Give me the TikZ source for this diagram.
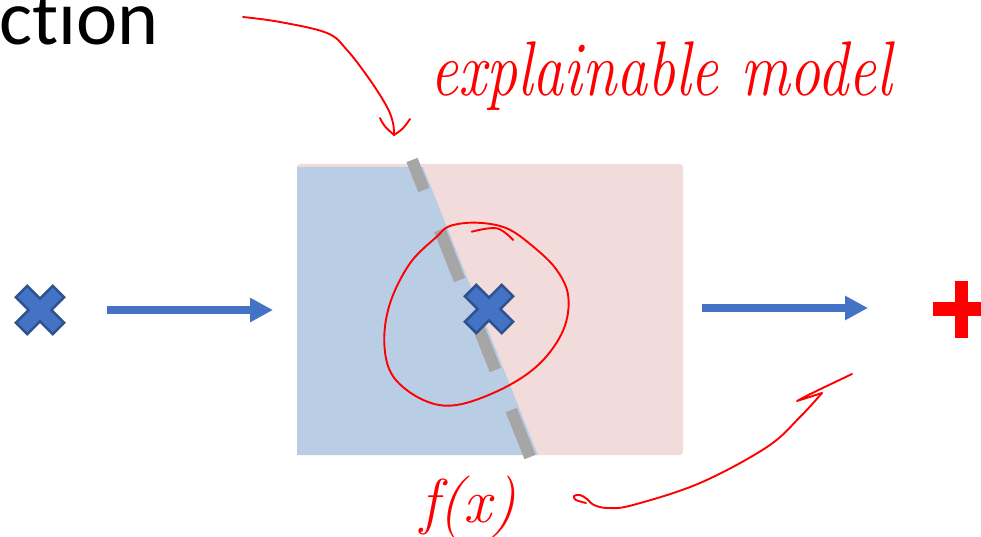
\documentclass[tikz,border=0pt]{standalone}
\usepackage{fontspec}
\newfontfamily\calibrifont{Carlito}[Ligatures=NoCommon]
\usetikzlibrary{arrows.meta}
\definecolor{regblue}{HTML}{B9CDE5}
\definecolor{regpink}{HTML}{F2DCDB}
\definecolor{dashgray}{HTML}{A6A6A6}
\definecolor{arrblue}{HTML}{4472C4}
\definecolor{xedge}{HTML}{2F528F}
\definecolor{penred}{HTML}{FF0000}
\tikzset{
  bluearrow/.style={draw=arrblue, line width=8pt, -{Triangle[length=23pt 0 0, width=23pt 0 0]}},
  graydash/.style={draw=dashgray, line width=12pt},
  pen/.style={draw=penred, line width=1.9pt, line cap=round, line join=round},
  bluex/.pic={\draw[fill=arrblue, draw=xedge, line width=2.5pt, line join=miter, rotate=45]
     (8,8) -- (26,8) -- (26,-8) -- (8,-8) -- (8,-26) -- (-8,-26) -- (-8,-8) -- (-26,-8)
     -- (-26,8) -- (-8,8) -- (-8,26) -- (8,26) -- cycle;},
}
\begin{document}
\begin{tikzpicture}[x=1pt,y=-1pt]
\useasboundingbox (0,0) rectangle (981,537);
\clip (0,0) rectangle (981,537);
% title fragment (clipped at the top, as in the reference)
\node[anchor=base west, inner sep=0pt] (title) at (-1,45) {\calibrifont\fontsize{78}{78}\selectfont ction};
% regions
\fill[regpink, rounded corners=3pt] (297,164) rectangle (683,455);
\fill[regblue] (297,167) -- (423,167) -- (538,455) -- (297,455) -- cycle;
\node[inner sep=0pt, minimum width=386pt, minimum height=291pt] (box) at (490,309.5) {};
% dashed boundary
\coordinate (d1a) at (412,160); \coordinate (d1b) at (423.9,190);
\coordinate (d2a) at (439.8,230); \coordinate (d2b) at (459.6,280);
\coordinate (d3a) at (475.5,320); \coordinate (d3b) at (495.4,370);
\coordinate (d4a) at (511.3,410); \coordinate (d4b) at (530,457);
\draw[graydash] (d1a) -- (d1b);
\draw[graydash] (d2a) -- (d2b);
\draw[graydash] (d3a) -- (d3b);
\draw[graydash] (d4a) -- (d4b);
% crosses
\coordinate (xin) at (40,310);
\coordinate (xmid) at (489,309);
\pic at (xin) {bluex};
\pic at (xmid) {bluex};
% arrows
\coordinate (a1s) at (107,310); \coordinate (a1e) at (273,310);
\coordinate (a2s) at (702,308); \coordinate (a2e) at (868,308);
\draw[bluearrow] (a1s) -- (a1e);
\draw[bluearrow] (a2s) -- (a2e);
% red plus
\coordinate (plus) at (961.5,309);
\fill[penred] (955,281) rectangle (968,338);
\fill[penred] (933,302) rectangle (990,316);
% handwritten labels
\node[anchor=base west, inner sep=0pt, text=penred] (expl) at (430,96)
  {\scalebox{1}[1.25]{\fontsize{62}{62}\selectfont\itshape explainable model}};
\node[anchor=base west, inner sep=0pt, text=penred] (fx) at (420,522)
  {\fontsize{62}{62}\selectfont\itshape f(x)};
% top pen arrow
\coordinate (t0) at (243,17);
\coordinate (ttip) at (394,135);
\draw[pen] plot[smooth, tension=0.6] coordinates {(t0) (280,22) (327,33) (347,50) (370,80) (387,107) (393,123) (ttip)};
\draw[pen] (380,118) .. controls (384,126) .. (ttip);
\draw[pen] (410,119) .. controls (403,129) .. (ttip);
% circle
\draw[pen] plot[smooth cycle, tension=0.6] coordinates {(476.7,222.7) (506.7,228.3) (533.3,246.7) (556.7,270) (568.3,296.7) (563.3,330) (540,363.3) (503.3,388.3) (456.7,405) (423.3,400) (393.3,376.7) (384.3,343.3) (390,303.3) (410,263.3) (436.7,236.7) (450,226)};
\draw[pen] plot[smooth, tension=0.6] coordinates {(471.7,231.7) (496.7,228.3) (513.3,240)};
% bottom pen arrow
\coordinate (b0) at (586,503);
\coordinate (btip) at (852,374);
\draw[pen] plot[smooth, tension=0.6] coordinates {(b0) (576,500) (574,496) (580,495) (587,499) (594,505) (608,508) (633,505) (700,483) (767,447) (800,417) (822,393)};
\draw[pen] (822,393) -- (797,401) .. controls (808,395) .. (btip);
\end{tikzpicture}
\end{document}
